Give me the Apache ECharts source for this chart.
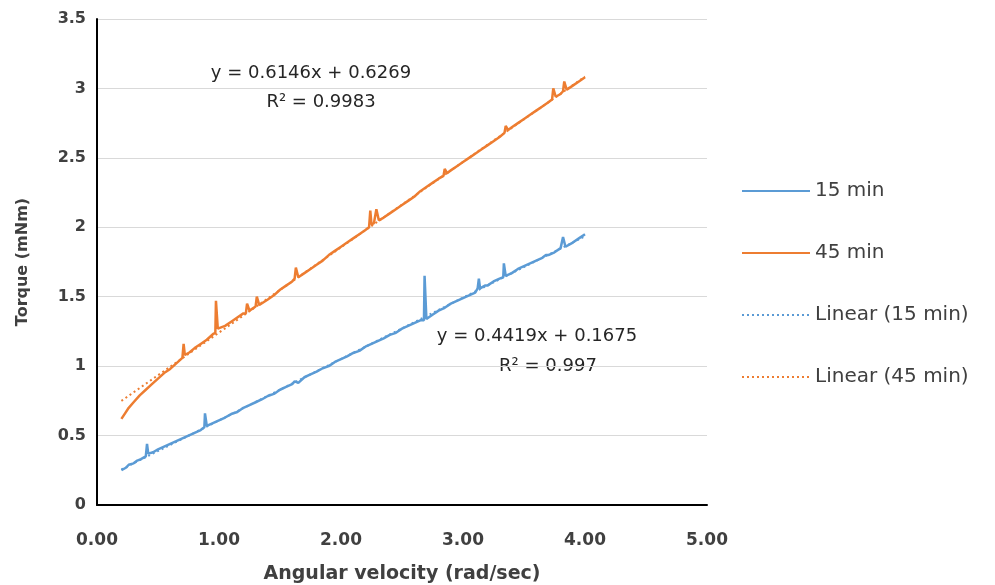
<!DOCTYPE html>
<html>
<head>
<meta charset="utf-8">
<script src="https://cdn.jsdelivr.net/npm/echarts@6/dist/echarts.min.js"></script>
<style>
  html, body { margin: 0; padding: 0; background: #fff; }
  #chart { width: 995px; height: 585px; }
</style>
</head>
<body>
<div id="chart"></div>
<script>
// tick labels
var xTicks = [0, 1, 2, 3, 4, 5];
var yTicks = [0, 0.5, 1, 1.5, 2, 2.5, 3, 3.5];

// 15 min: [angular velocity, torque]
var data15 = [
  [0.20,0.25],[0.24,0.27],[0.26,0.29],[0.30,0.30],[0.33,0.32],[0.36,0.33],[0.40,0.35],[0.41,0.44],[0.42,0.37],
  [0.46,0.38],[0.50,0.40],[0.55,0.42],[0.60,0.44],[0.65,0.46],[0.70,0.48],[0.75,0.50],[0.80,0.52],[0.85,0.54],
  [0.88,0.56],[0.885,0.66],[0.90,0.57],[0.95,0.59],[1.00,0.61],[1.05,0.63],[1.10,0.655],[1.15,0.67],[1.20,0.70],
  [1.25,0.72],[1.30,0.74],[1.35,0.76],[1.40,0.785],[1.45,0.80],[1.50,0.83],[1.55,0.85],[1.60,0.87],[1.62,0.89],
  [1.65,0.88],[1.70,0.92],[1.75,0.94],[1.80,0.96],[1.85,0.985],[1.90,1.00],[1.95,1.03],[2.00,1.05],[2.05,1.07],
  [2.10,1.095],[2.15,1.11],[2.20,1.14],[2.25,1.16],[2.30,1.18],[2.35,1.20],[2.40,1.225],[2.45,1.24],[2.50,1.27],
  [2.55,1.29],[2.60,1.31],[2.65,1.33],[2.68,1.33],[2.685,1.65],[2.70,1.34],[2.75,1.37],[2.80,1.40],[2.85,1.42],
  [2.90,1.45],[2.95,1.47],[3.00,1.49],[3.05,1.51],[3.10,1.53],[3.12,1.56],[3.13,1.63],[3.14,1.56],[3.18,1.58],
  [3.20,1.58],[3.25,1.61],[3.30,1.63],[3.33,1.64],[3.335,1.74],[3.35,1.65],[3.40,1.67],[3.45,1.70],[3.50,1.72],
  [3.55,1.74],[3.60,1.76],[3.65,1.78],[3.68,1.80],[3.70,1.80],[3.75,1.82],[3.80,1.85],[3.82,1.93],[3.84,1.86],
  [3.90,1.89],[3.95,1.92],[4.00,1.95]
];

// 45 min
var data45 = [
  [0.20,0.62],[0.23,0.66],[0.26,0.70],[0.30,0.74],[0.35,0.79],[0.40,0.83],[0.45,0.87],[0.50,0.91],[0.55,0.95],
  [0.60,0.98],[0.65,1.02],[0.70,1.06],[0.71,1.16],[0.72,1.08],[0.76,1.10],[0.80,1.13],[0.85,1.16],[0.90,1.19],
  [0.95,1.23],[0.97,1.24],[0.975,1.47],[0.99,1.27],[1.00,1.26],[1.05,1.29],[1.10,1.32],[1.15,1.35],[1.20,1.38],
  [1.22,1.38],[1.23,1.45],[1.25,1.40],[1.30,1.43],[1.31,1.50],[1.33,1.44],[1.40,1.48],[1.45,1.51],[1.50,1.55],
  [1.55,1.58],[1.60,1.61],[1.62,1.63],[1.63,1.71],[1.65,1.64],[1.70,1.67],[1.75,1.70],[1.80,1.73],[1.85,1.76],
  [1.90,1.80],[1.95,1.83],[2.00,1.86],[2.05,1.89],[2.10,1.92],[2.15,1.95],[2.20,1.98],[2.23,2.00],[2.24,2.12],
  [2.25,2.02],[2.27,2.03],[2.29,2.13],[2.31,2.05],[2.35,2.07],[2.40,2.10],[2.45,2.13],[2.50,2.16],[2.55,2.19],
  [2.60,2.22],[2.65,2.26],[2.70,2.29],[2.75,2.32],[2.80,2.35],[2.84,2.37],[2.85,2.42],[2.87,2.39],[2.90,2.41],
  [2.95,2.44],[3.00,2.47],[3.05,2.50],[3.10,2.53],[3.15,2.56],[3.20,2.59],[3.25,2.62],[3.30,2.65],[3.34,2.68],
  [3.35,2.73],[3.37,2.70],[3.40,2.72],[3.45,2.75],[3.50,2.78],[3.55,2.81],[3.60,2.84],[3.65,2.87],[3.70,2.90],
  [3.73,2.92],[3.74,3.00],[3.76,2.94],[3.80,2.96],[3.82,2.98],[3.83,3.05],[3.85,2.99],[3.90,3.02],[3.95,3.05],
  [4.00,3.08]
];

// linear trendline end points
var trend15 = [[0.20,0.256],[4.00,1.935]];
var trend45 = [[0.20,0.750],[4.00,3.085]];

var blue = '#5b9bd5';
var orange = '#ed7d31';
var font = "'DejaVu Sans', sans-serif";

var chart = echarts.init(document.getElementById('chart'));

function eqText(x, y, text) {
  return {
    type: 'text', x: x, y: y,
    style: { text: text, fontFamily: font, fontSize: 18, fill: '#262626', align: 'center', verticalAlign: 'middle' }
  };
}

chart.setOption({
  animation: false,
  grid: { left: 97, top: 19, width: 610, height: 486, outerBoundsMode: 'none' },
  legend: {
    orient: 'vertical',
    left: 736,
    top: 176,
    itemWidth: 68,
    itemHeight: 14,
    itemGap: 42,
    itemStyle: { opacity: 0 },
    textStyle: { fontFamily: font, fontSize: 20, color: '#404040', lineHeight: 20 },
    data: ['15 min', '45 min', 'Linear (15 min)', 'Linear (45 min)']
  },
  xAxis: {
    type: 'value',
    min: xTicks[0],
    max: xTicks[xTicks.length - 1],
    interval: 1,
    name: 'Angular velocity (rad/sec)',
    nameLocation: 'middle',
    nameGap: 60,
    nameTextStyle: { fontFamily: font, fontSize: 19, fontWeight: 'bold', color: '#404040' },
    axisLine: { lineStyle: { color: '#000', width: 2 } },
    axisTick: { show: false },
    splitLine: { show: false },
    axisLabel: {
      margin: 27,
      fontFamily: font, fontSize: 17, fontWeight: 'bold', color: '#404040',
      formatter: function (v) { return v.toFixed(2); }
    }
  },
  yAxis: {
    type: 'value',
    min: yTicks[0],
    max: yTicks[yTicks.length - 1],
    interval: 0.5,
    name: 'Torque (mNm)',
    nameLocation: 'middle',
    nameGap: 66,
    nameTextStyle: { fontFamily: font, fontSize: 16, fontWeight: 'bold', color: '#404040' },
    axisLine: { show: true, lineStyle: { color: '#000', width: 2 } },
    axisTick: { show: false },
    splitLine: { lineStyle: { color: '#d9d9d9', width: 1 } },
    axisLabel: {
      margin: 11,
      fontFamily: font, fontSize: 16, fontWeight: 'bold', color: '#404040',
      formatter: function (v) { return String(v); }
    }
  },
  series: [
    {
      name: '15 min', type: 'line', data: data15, symbol: 'none',
      lineStyle: { color: blue, width: 2.5 }, itemStyle: { color: blue }
    },
    {
      name: '45 min', type: 'line', data: data45, symbol: 'none',
      lineStyle: { color: orange, width: 2.5 }, itemStyle: { color: orange }
    },
    {
      name: 'Linear (15 min)', type: 'line', data: trend15, symbol: 'none',
      lineStyle: { color: blue, width: 2, type: [2, 3] }, itemStyle: { color: blue }
    },
    {
      name: 'Linear (45 min)', type: 'line', data: trend45, symbol: 'none',
      lineStyle: { color: orange, width: 2, type: [2, 3] }, itemStyle: { color: orange }
    }
  ],
  graphic: [
    eqText(311, 73, 'y = 0.6146x + 0.6269'),
    eqText(321, 102, 'R² = 0.9983'),
    eqText(537, 336, 'y = 0.4419x + 0.1675'),
    eqText(548, 366, 'R² = 0.997')
  ]
});
</script>
</body>
</html>
